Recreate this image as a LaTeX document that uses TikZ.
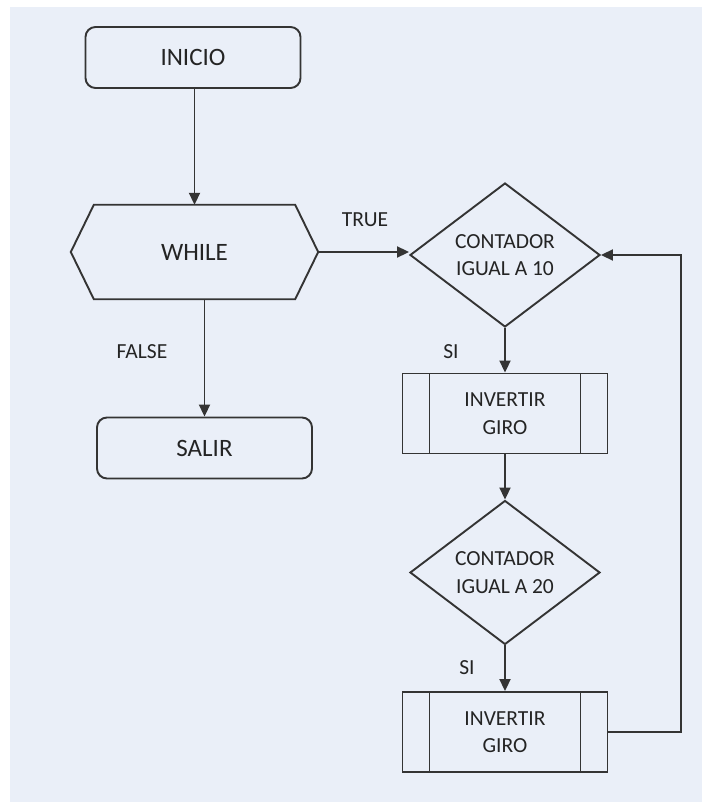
\documentclass[tikz,border=0pt]{standalone}
\usepackage{fontspec}
\setmainfont{Carlito}
\usetikzlibrary{arrows.meta,shapes.geometric}
\definecolor{bgfill}{RGB}{234,239,248}
\definecolor{ink}{RGB}{52,52,52}
\definecolor{txt}{RGB}{36,36,36}
\begin{document}
\begin{tikzpicture}[x=1pt,y=-1pt,
  every node/.style={text=txt, inner sep=0pt, align=center},
  line/.style={draw=ink, line width=1.9pt},
  flow/.style={line, -{Triangle[length=12pt,width=11pt]}},
  bigtext/.style={font=\fontsize{25}{30}\selectfont},
  smalltext/.style={font=\fontsize{21.5}{27.5}\selectfont},
  terminal/.style={line, rectangle, rounded corners=10pt, minimum width=215pt, minimum height=61pt, bigtext},
  decision/.style={line, diamond, aspect=1.3, minimum width=190pt, minimum height=144pt, smalltext},
  subproc/.style={line, rectangle, minimum width=205pt, minimum height=80pt, smalltext,
    path picture={
      \draw[ink, line width=1.9pt]
        ([xshift=27pt]path picture bounding box.north west) -- ([xshift=27pt]path picture bounding box.south west)
        ([xshift=-27pt]path picture bounding box.north east) -- ([xshift=-27pt]path picture bounding box.south east);
    }},
  lbl/.style={smalltext}
]
\useasboundingbox (0,0) rectangle (702,802);
\fill[bgfill] (10,7) rectangle (702,802);

% start / end terminals
\node[terminal] (inicio) at (193,57.5) {INICIO};
\node[terminal] (salir) at (204.5,448) {SALIR};

% loop hexagon
\node[bigtext, minimum width=201pt, minimum height=94pt] (while) at (194.5,252) {WHILE};
\coordinate (whileR) at ([xshift=23pt]while.east);
\coordinate (whileL) at ([xshift=-23pt]while.west);
\draw[line, line join=miter] (while.north west) -- (while.north east) -- (whileR)
  -- (while.south east) -- (while.south west) -- (whileL) -- cycle;

% decisions and subprocesses
\node[decision] (d1) at (505,255) {CONTADOR\\IGUAL A 10};
\node[subproc] (g1) at (505,413.5) {INVERTIR\\GIRO};
\node[decision] (d2) at (505,572.5) {CONTADOR\\IGUAL A 20};
\node[subproc] (g2) at (505,732) {INVERTIR\\GIRO};
\coordinate (loop) at (681,0);

% connector labels
\node[lbl] (ltrue) at (365,220) {TRUE};
\node[lbl] (lfalse) at (142,352) {FALSE};
\node[lbl] (lsi1) at (451,352) {SI};
\node[lbl] (lsi2) at (467,668) {SI};

% connectors
\draw[flow] (inicio.south -| while.north) -- (while.north);
\draw[flow] (salir.north |- while.south) -- (salir.north);
\draw[flow] (whileR) -- (whileR -| d1.west);
\draw[flow] (d1.south) -- (g1.north);
\draw[flow] (g1.south) -- (d2.north);
\draw[flow] (d2.south) -- (g2.north);
\draw[flow] (g2.east) -- (g2.east -| loop) -- (d1.east -| loop) -- (d1.east);
\end{tikzpicture}
\end{document}
